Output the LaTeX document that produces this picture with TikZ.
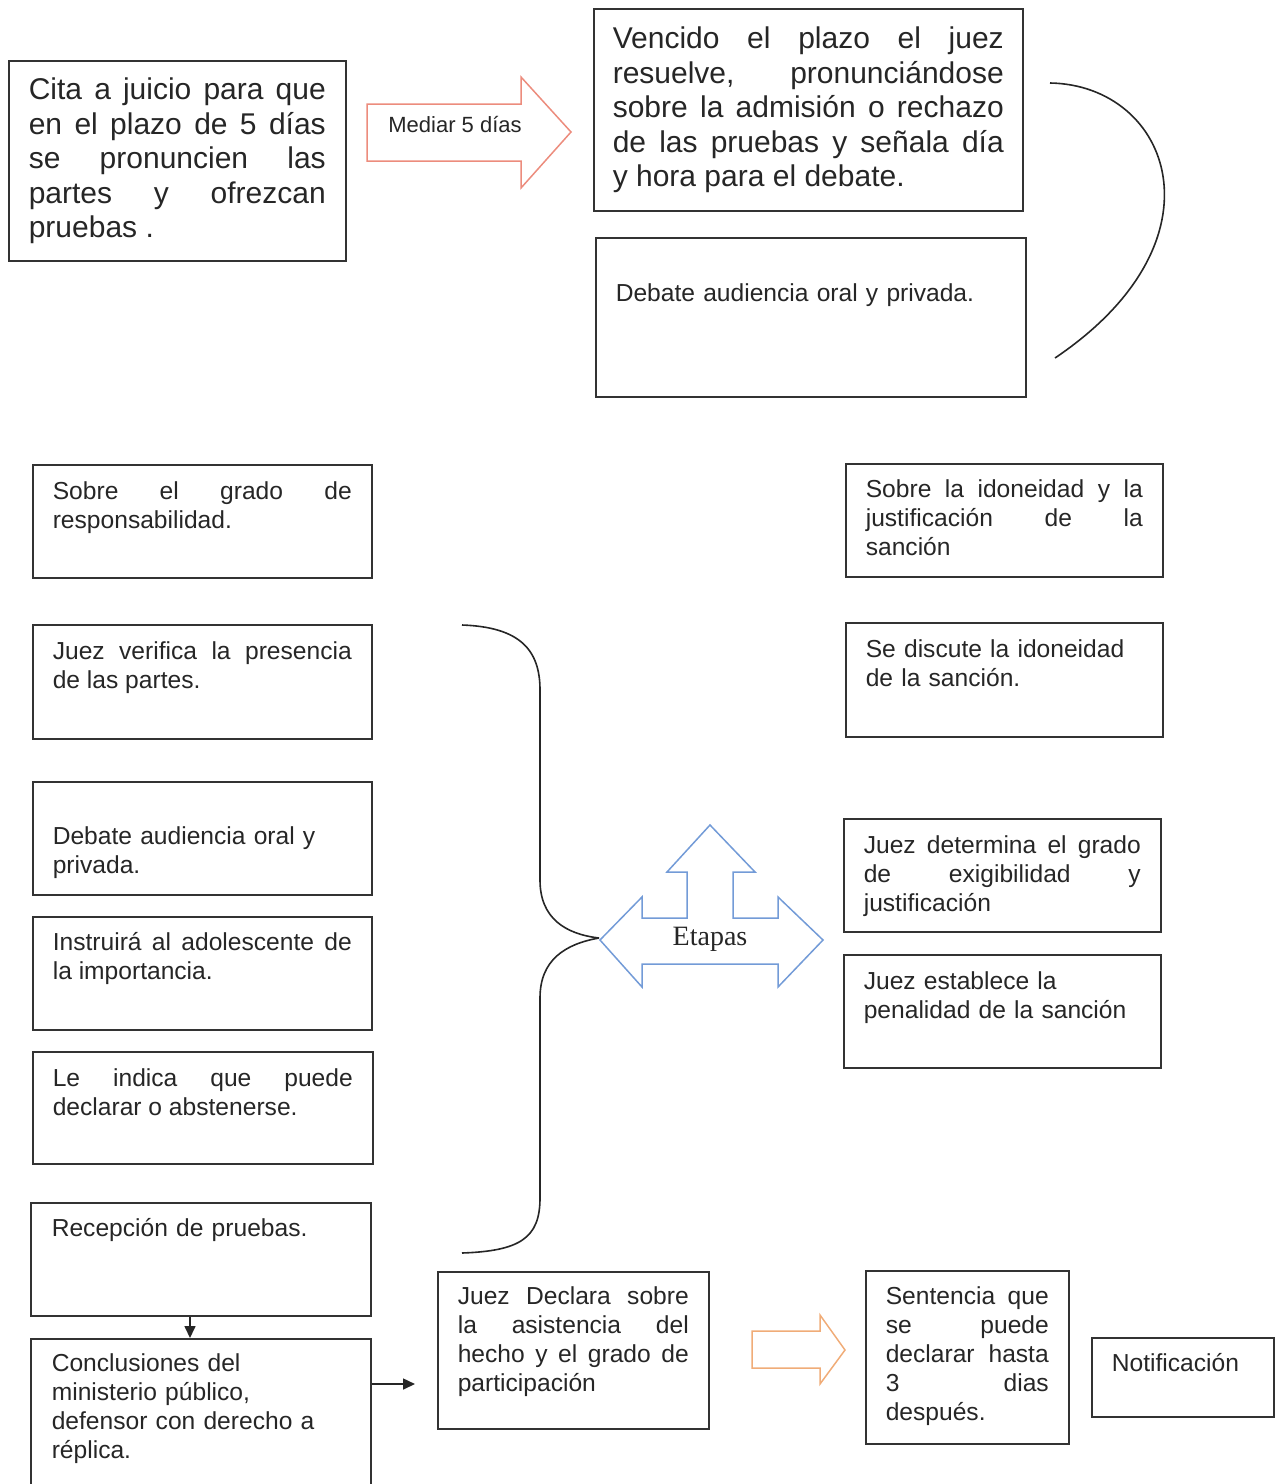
\documentclass[tikz,border=0pt]{standalone}
\usepackage{fontspec}
\setmainfont{Liberation Sans}
\newfontfamily\etfont{Liberation Serif}
\usetikzlibrary{arrows.meta}
\hyphenpenalty=10000
\exhyphenpenalty=10000
\tolerance=10000
\hbadness=10000
\definecolor{salmon}{RGB}{236,140,125}
\definecolor{orangeline}{RGB}{240,172,120}
\definecolor{blueline}{RGB}{115,155,215}
\tikzset{
  box/.style={draw=black!80, line width=1.6pt, anchor=north west, inner ysep=0pt, inner xsep=20pt, text=black!85},
  big/.style={font=\fontsize{30}{34.5}\selectfont},
  small/.style={font=\fontsize{24.6}{29}\selectfont},
  just/.style={align=justify},
  rag/.style={align=left},
  curve/.style={draw=black!85, line width=1.6pt},
  arr/.style={draw=black!85, line width=1.6pt, -{Triangle[length=12pt,width=11pt]}},
  blockarrow/.style={line width=1.5pt, line join=miter}
}
\begin{document}
\begin{tikzpicture}[x=1pt,y=-1pt]
\useasboundingbox (0,0) rectangle (1275,1484);

% top row
\node[box,big,just,text width=297pt,text height=39pt,text depth=161pt] (cita) at (8,60)
 {Cita a juicio para que\linebreak en el plazo de 5 días\linebreak se pronuncien las\linebreak partes y ofrezcan\linebreak pruebas .};
\node[box,big,just,inner xsep=19pt,text width=391pt,text height=40pt,text depth=162pt] (venc) at (593,8)
 {Vencido el plazo el juez\linebreak resuelve, pronunciándose\linebreak sobre la admisión o rechazo\linebreak de las pruebas y señala día\linebreak y hora para el debate.};
\node[box,small,rag,text width=390pt,text height=64pt,text depth=95pt] (deb1) at (595,237)
 {Debate audiencia oral y privada.};

% Mediar arrow
\draw[blockarrow,salmon] (367,104) -- (521,104) -- (521,77) -- (571,132) -- (521,188) -- (521,161) -- (367,161) -- cycle;
\node[font=\fontsize{22}{26}\selectfont,text=black!85] (mediar) at (455,125) {Mediar 5 días};

% right curve
\coordinate (c1) at (1050,83);
\coordinate (c2) at (1055,358);
\draw[curve] (c1) .. controls (1170,85) and (1230,240) .. (c2);

% left column
\node[box,small,just,text width=299pt,text height=35pt,text depth=78pt] (sobre) at (32,464)
 {Sobre el grado de\linebreak responsabilidad.};
\node[box,small,just,text width=299pt,text height=35pt,text depth=79pt] (juezv) at (32,624)
 {Juez verifica la presencia\linebreak de las partes.};
\node[box,small,rag,text width=299pt,text height=63pt,text depth=50pt] (deb2) at (32,781)
 {Debate audiencia oral y\\ privada.};
\node[box,small,just,text width=299pt,text height=34pt,text depth=79pt] (instr) at (32,916)
 {Instruirá al adolescente de\linebreak la importancia.};
\node[box,small,just,text width=300pt,text height=35pt,text depth=77pt] (leind) at (32,1051)
 {Le indica que puede\linebreak declarar o abstenerse.};
\node[box,small,rag,inner xsep=21pt,text width=298pt,text height=34pt,text depth=79pt] (recep) at (30,1202)
 {Recepción de pruebas.};
\node[box,small,rag,inner xsep=21pt,text width=298pt,text height=33pt,text depth=129pt] (concl) at (30,1338)
 {Conclusiones del\\ ministerio público,\\ defensor con derecho a\\ réplica.};

% right column
\node[box,small,just,text width=277pt,text height=34pt,text depth=79pt] (idon) at (845,463)
 {Sobre la idoneidad y la\linebreak justificación de la\linebreak sanción};
\node[box,small,rag,text width=277pt,text height=35pt,text depth=79pt] (disc) at (845,622)
 {Se discute la idoneidad\\ de la sanción.};
\node[box,small,just,text width=277pt,text height=35pt,text depth=78pt] (deter) at (843,818)
 {Juez determina el grado\linebreak de exigibilidad y\linebreak justificación};
\node[box,small,rag,text width=277pt,text height=35pt,text depth=78pt] (estab) at (843,954)
 {Juez establece la\\ penalidad de la sanción};

% bottom row
\node[box,small,just,text width=231pt,text height=33pt,text depth=124pt] (juezd) at (437,1271)
 {Juez Declara sobre\linebreak la asistencia del\linebreak hecho y el grado de\linebreak participación};
\node[box,small,just,text width=163pt,text height=34pt,text depth=139pt] (sent) at (865,1270)
 {Sentencia que\linebreak se puede\linebreak declarar hasta\linebreak 3 dias\linebreak después.};
\node[box,small,rag,text width=142pt,text height=34pt,text depth=45pt] (notif) at (1091,1337)
 {Notificación};

% brace
\coordinate (b1) at (462,625);
\coordinate (btip) at (599,938);
\coordinate (b2) at (462,1253);
\draw[curve] (b1) .. controls (520,627) and (540,650) .. (540,690) -- (540,880)
  .. controls (540,918) and (565,934) .. (btip);
\draw[curve] (btip) .. controls (565,944) and (540,960) .. (540,998) -- (540,1198)
  .. controls (540,1238) and (520,1251) .. (b2);

% Etapas arrow
\draw[blockarrow,blueline] (600,940) -- (642,897) -- (642,918) -- (687,918) -- (687,872) -- (667,872)
  -- (710,825) -- (755,872) -- (733,872) -- (733,918) -- (778,918) -- (778,897) -- (823,940)
  -- (778,987) -- (778,964) -- (642,964) -- (642,987) -- cycle;
\node[font=\etfont\fontsize{28}{30}\selectfont,text=black!85] (etapas) at (710,939) {Etapas};

% connectors
\draw[arr] ([xshift=160pt]recep.south west) -- ([xshift=160pt]concl.north west);
\coordinate (ay) at (0,1384);
\draw[arr,shorten >=22pt] (concl.east |- ay) -- (juezd.west |- ay);

% orange arrow
\draw[blockarrow,orangeline] (752,1331) -- (820,1331) -- (820,1315) -- (845,1350) -- (820,1384)
  -- (820,1368) -- (752,1368) -- cycle;
\end{tikzpicture}
\end{document}
